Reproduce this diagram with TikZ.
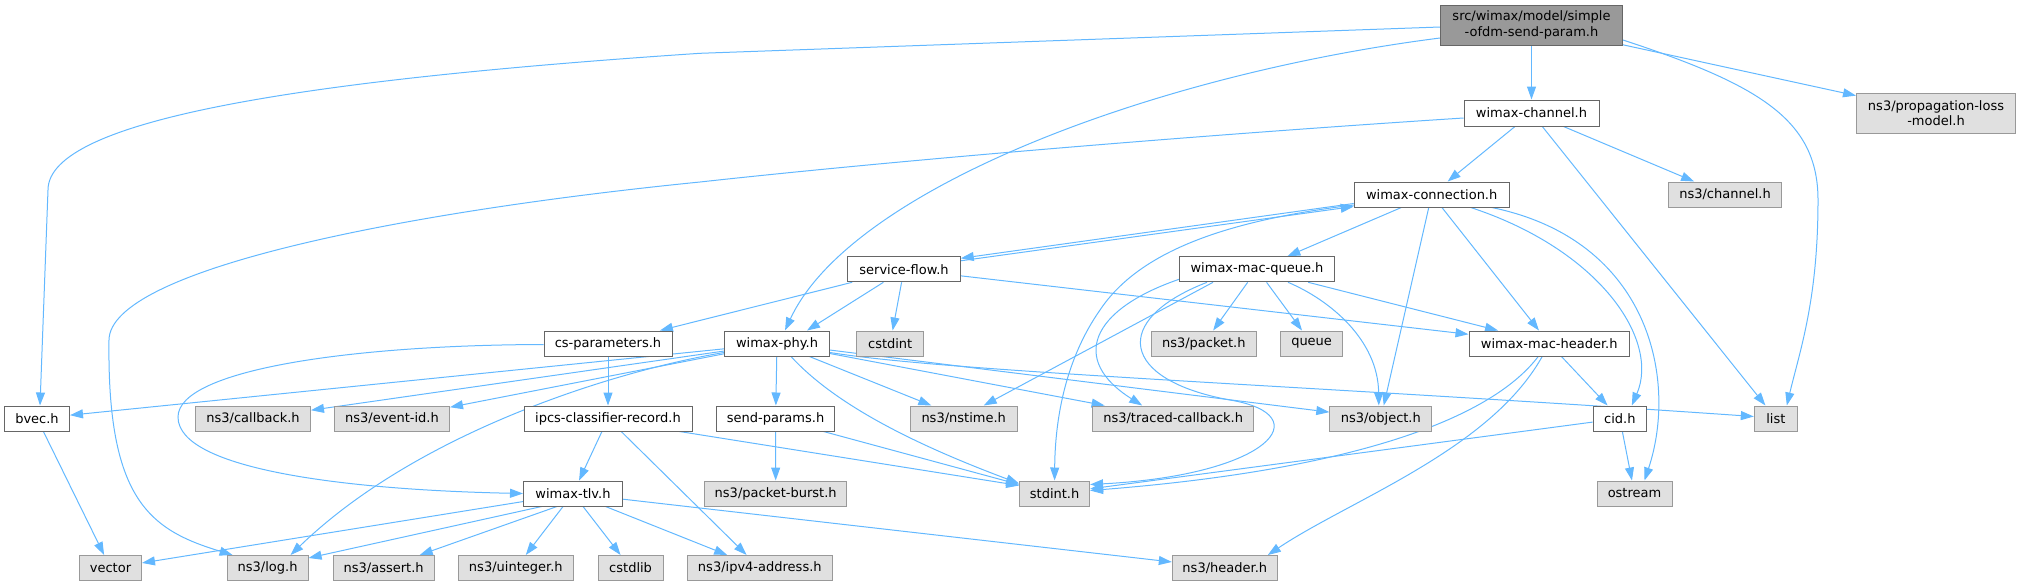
\documentclass[tikz,border=0pt]{standalone}
\usepackage{fontspec}
\setmainfont{DejaVu Sans}
\usetikzlibrary{arrows.meta,calc,backgrounds}
\definecolor{edgec}{HTML}{63B8FF}
\definecolor{rootfill}{HTML}{999999}
\definecolor{rootline}{HTML}{666666}
\definecolor{extfill}{HTML}{E0E0E0}
\definecolor{extline}{HTML}{999999}
\begin{document}
\begin{tikzpicture}[x=1pt,y=-1pt,
  box/.style={rectangle,draw,line width=1pt,inner sep=0pt,minimum height=25pt,
    font=\fontsize{13pt}{15.5pt}\selectfont,align=center},
  rootbox/.style={box,fill=rootfill,draw=rootline},
  locbox/.style={box,fill=white,draw=rootline},
  extbox/.style={box,fill=extfill,draw=extline},
  e/.style={draw=edgec,line width=1pt,-{Triangle[length=13pt,width=9pt]}}]
\useasboundingbox (0,0) rectangle (2021,587);
% nodes
\node[rootbox,minimum width=182pt,minimum height=40pt] (root) at (1531.5,25) {src/wimax/model/simple\\-ofdm-send-param.h};
\node[locbox,minimum width=135pt,minimum height=26pt] (wchan) at (1531.5,113) {wimax-channel.h};
\node[extbox,minimum width=159pt,minimum height=40pt] (prop) at (1936,113) {ns3/propagation-loss\\-model.h};
\node[locbox,minimum width=155pt] (wconn) at (1431.7,194.5) {wimax-connection.h};
\node[extbox,minimum width=112.5pt] (chan) at (1725,194.5) {ns3/channel.h};
\node[locbox,minimum width=112.5pt] (sflow) at (904,269.3) {service-flow.h};
\node[locbox,minimum width=155pt] (mq) at (1257,269.3) {wimax-mac-queue.h};
\node[locbox,minimum width=128pt] (csp) at (608,343.5) {cs-parameters.h};
\node[locbox,minimum width=105pt] (phy) at (777,343.5) {wimax-phy.h};
\node[extbox,minimum width=67pt] (cstdint) at (890.2,343.5) {cstdint};
\node[extbox,minimum width=105pt] (packet) at (1203.8,343.5) {ns3/packet.h};
\node[extbox,minimum width=62.5pt] (queue) at (1311.6,343.5) {queue};
\node[locbox,minimum width=160.4pt] (mh) at (1549.2,343.5) {wimax-mac-header.h};
\node[locbox,minimum width=65pt] (bvec) at (37,418.5) {bvec.h};
\node[extbox,minimum width=115pt] (callback) at (253,418.5) {ns3/callback.h};
\node[extbox,minimum width=115pt] (eventid) at (392,418.5) {ns3/event-id.h};
\node[locbox,minimum width=168pt] (ipcs) at (608,418.5) {ipcs-classifier-record.h};
\node[locbox,minimum width=118pt] (sendp) at (775.6,418.5) {send-params.h};
\node[extbox,minimum width=107pt] (nstime) at (963.7,418.5) {ns3/nstime.h};
\node[extbox,minimum width=160.7pt] (traced) at (1173.2,418.5) {ns3/traced-callback.h};
\node[extbox,minimum width=102pt] (object) at (1380.8,418.5) {ns3/object.h};
\node[locbox,minimum width=53.5pt] (cid) at (1619.8,418.5) {cid.h};
\node[extbox,minimum width=43pt] (list) at (1775.8,418.5) {list};
\node[locbox,minimum width=99pt] (wtlv) at (573,493.5) {wimax-tlv.h};
\node[extbox,minimum width=142.4pt] (pburst) at (775.7,493.5) {ns3/packet-burst.h};
\node[extbox,minimum width=70pt] (stdint) at (1054.6,493.5) {stdint.h};
\node[extbox,minimum width=75pt] (ostream) at (1634.5,493.5) {ostream};
\node[extbox,minimum width=62pt] (vector) at (110.5,568) {vector};
\node[extbox,minimum width=81pt] (log) at (267.6,568) {ns3/log.h};
\node[extbox,minimum width=101pt] (assert) at (383.7,568) {ns3/assert.h};
\node[extbox,minimum width=115pt] (uinteger) at (515.8,568) {ns3/uinteger.h};
\node[extbox,minimum width=65pt] (cstdlib) at (630.6,568) {cstdlib};
\node[extbox,minimum width=144.6pt] (ipv4) at (759.8,568) {ns3/ipv4-address.h};
\node[extbox,minimum width=105pt] (header) at (1224.8,568) {ns3/header.h};
\begin{scope}[on background layer]
% root
\draw[e] ($(root.west)+(0,2)$) -- (700,53.3) .. controls (300,80) and (48,120) .. (48,190) -- ($(bvec.north)+(3,0)$);
\draw[e] ($(root.west)+(0,13)$) .. controls (1150,75) and (850,190) .. ($(phy.north)+(8,0)$);
\draw[e] (root) -- (wchan);
\draw[e] (root) -- (prop);
\draw[e] ($(root.east)+(0,15)$) .. controls (1760,85) and (1818,120) .. (1818,200) .. controls (1818,300) and (1800,350) .. ($(list.north)+(11,0)$);
% wimax-channel
\draw[e] ($(wchan.west)+(0,5)$) .. controls (1200,135) and (900,160) .. (700,182) .. controls (400,212) and (110,270) .. (109,340) .. controls (107,500) and (150,530) .. ($(log.north west)+(6,0)$);
\draw[e] (wchan) -- (wconn);
\draw[e] (wchan) -- (chan);
\draw[e] (wchan) -- (list);
% wimax-connection
\draw[e] ($(wconn.south west)+(0,-4)$) -- ($(sflow.north east)+(0,2)$);
\draw[e] ($(sflow.north east)+(0,4.5)$) -- ($(wconn.south west)+(0,-1)$);
\draw[e] (wconn) -- (mq);
\draw[e] (wconn) -- (object);
\draw[e] (wconn) -- (mh);
\draw[e] ($(wconn.south east)+(-39,0)$) .. controls (1600,250) and (1660,340) .. ($(cid.north)+(12,0)$);
\draw[e] ($(wconn.south east)+(-18,0)$) .. controls (1650,240) and (1678,380) .. ($(ostream.north)+(10,0)$);
\draw[e] ($(wconn.south west)+(0,-2.5)$) .. controls (1230,220) and (1140,250) .. (1100,310) .. controls (1065,360) and (1055,420) .. (stdint.north);
% service-flow
\draw[e] (sflow) -- (csp);
\draw[e] (sflow) -- ($(phy.north)+(30,0)$);
\draw[e] (sflow) -- (cstdint);
\draw[e] (sflow) -- (mh);
% wimax-mac-queue
\draw[e] (mq) -- (packet);
\draw[e] (mq) -- (queue);
\draw[e] (mq) -- (mh);
\draw[e] ($(mq.south east)+(-47,0)$) .. controls (1330,300) and (1378,340) .. ($(object.north)+(-2,0)$);
\draw[e] ($(mq.south west)+(34,0)$) -- ($(nstime.north)+(20,0)$);
\draw[e] ($(mq.south west)+(0,-3)$) .. controls (1090,310) and (1070,360) .. ($(traced.north)+(-31,0)$);
\draw[e] ($(mq.south west)+(28,0)$) .. controls (1110,320) and (1120,380) .. (1230,400) .. controls (1320,415) and (1270,475) .. ($(stdint.east)+(0,-9)$);
% wimax-mac-header
\draw[e] (mh) -- (cid);
\draw[e] ($(mh.south)+(-11,0)$) .. controls (1490,420) and (1350,470) .. ($(stdint.east)+(0,-3)$);
\draw[e] ($(mh.south)+(-7,0)$) .. controls (1490,450) and (1350,500) .. ($(header.north east)+(-10,0)$);
% cid
\draw[e] (cid) -- (ostream);
\draw[e] (cid) -- (stdint);
% wimax-phy
\draw[e] (phy) -- (bvec);
\draw[e] (phy) -- (callback);
\draw[e] (phy) -- (eventid);
\draw[e] ($(phy.south west)+(0,-4)$) .. controls (620,370) and (420,430) .. ($(log.north east)+(-18,0)$);
\draw[e] (phy) -- (sendp);
\draw[e] (phy) -- (nstime);
\draw[e] (phy) -- (traced);
\draw[e] (phy) -- (object);
\draw[e] ($(phy.south east)+(0,-4)$) .. controls (950,372) and (1300,385) .. ($(list.west)+(0,-2)$);
\draw[e] ($(phy.south)+(14,0)$) .. controls (840,410) and (930,450) .. ($(stdint.west)+(0,-10)$);
% send-params
\draw[e] (sendp) -- (pburst);
\draw[e] (sendp) -- ($(stdint.west)+(0,-9)$);
% cs-parameters
\draw[e] (csp) -- (ipcs);
\draw[e] ($(csp.west)+(0,1)$) .. controls (350,345) and (178,370) .. (178,417) .. controls (178,470) and (350,490) .. (wtlv.west);
% ipcs-classifier-record
\draw[e] (ipcs) -- (wtlv);
\draw[e] (ipcs) -- (ipv4);
\draw[e] ($(ipcs.south east)+(-13,0)$) -- ($(stdint.west)+(0,-8)$);
% wimax-tlv
\draw[e] (wtlv) -- (vector);
\draw[e] ($(wtlv.south west)+(18.7,0)$) -- ($(log.north east)+(0,3)$);
\draw[e] ($(wtlv.south west)+(34,0)$) -- ($(assert.north)+(36,0)$);
\draw[e] (wtlv) -- (uinteger);
\draw[e] (wtlv) -- (cstdlib);
\draw[e] (wtlv) -- (ipv4);
\draw[e] (wtlv) -- (header);
% bvec
\draw[e] (bvec) -- (vector);
\end{scope}
\end{tikzpicture}
\end{document}
